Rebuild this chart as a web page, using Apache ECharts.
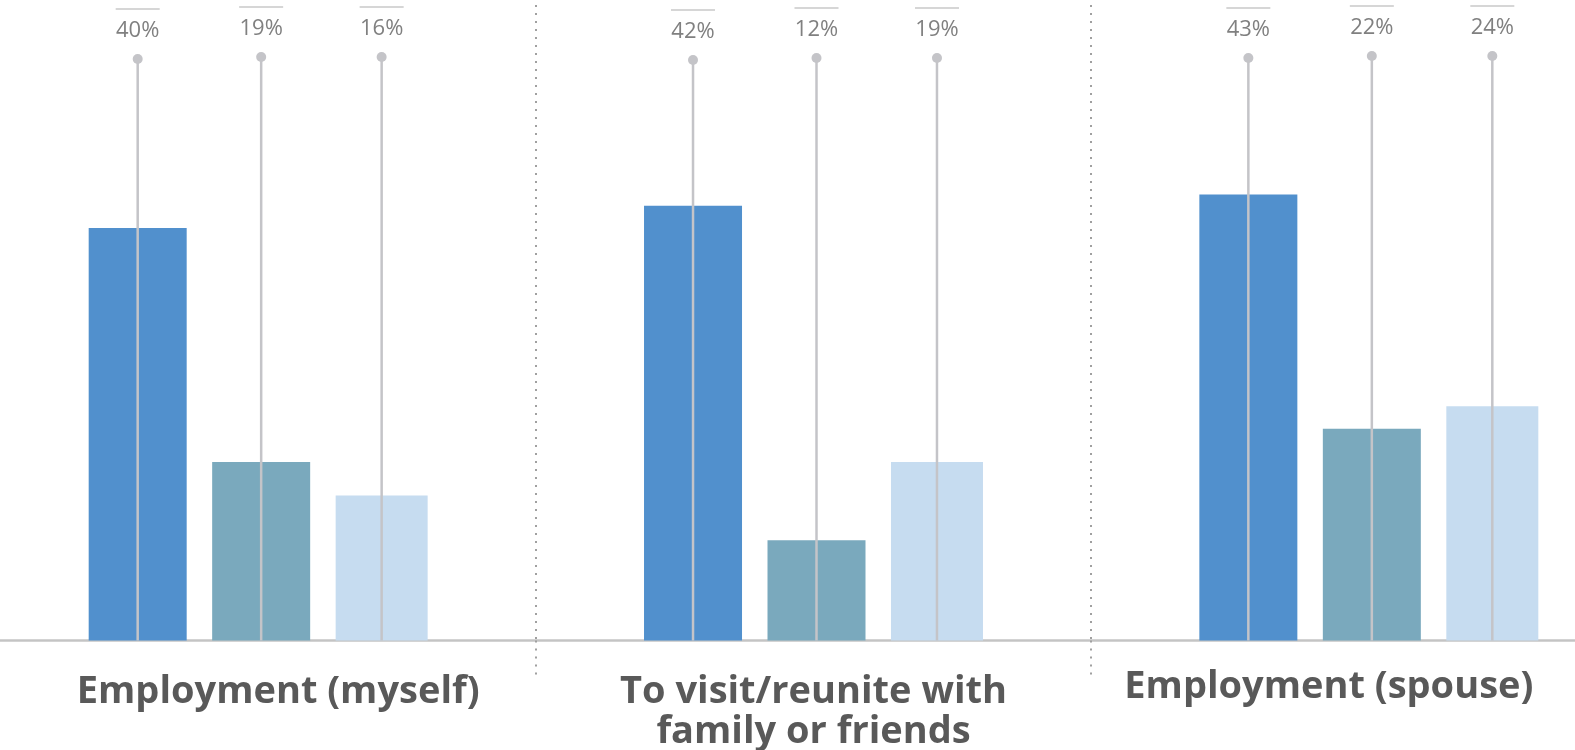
<!DOCTYPE html>
<html>
<head>
<meta charset="utf-8">
<script src="https://cdn.jsdelivr.net/npm/echarts@6/dist/echarts.min.js"></script>
<style>
  html, body { margin: 0; padding: 0; background: #fff; }
  #main { width: 1575px; height: 750px; }
</style>
</head>
<body>
<div id="main"></div>
<script>
// categories on the x axis
var categories = ['Employment (myself)', 'To visit/reunite with\nfamily or friends', 'Employment (spouse)'];
// bar values (%), one array per colour
var valuesA = [40, 42, 43];
var valuesB = [19, 12, 22];
var valuesC = [16, 19, 24];
// where each lollipop stem ends (same % scale)
var stemTopA = [55.15, 55.06, 55.24];
var stemTopB = [55.33, 55.24, 55.42];
var stemTopC = [55.33, 55.24, 55.42];

var colors = ['#5190cd', '#7aa9bd', '#c6dcf0'];
var barWidths = [98, 98, 92];
var barGap = 0.26;

// same centering echarts uses for side by side bars
function barOffsets() {
  var total = 0;
  barWidths.forEach(function (w) { total += w * (1 + barGap); });
  total -= barWidths[barWidths.length - 1] * barGap;
  var off = -total / 2, res = [];
  barWidths.forEach(function (w) {
    res.push(off + w / 2);
    off += w * (1 + barGap);
  });
  return res;
}
var offsets = barOffsets();

var stemData = [];
[[valuesA, stemTopA], [valuesB, stemTopB], [valuesC, stemTopC]].forEach(function (pair, s) {
  for (var g = 0; g < categories.length; g++) {
    stemData.push([g, s, pair[1][g], pair[0][g]]);
  }
});

// label tweaks: first label sits a bit right, last one a bit left and higher
var labelStyles = [
  { padding: [0, 0, 0, 40] },
  {},
  { padding: [0, 80, 0, 0], lineHeight: 30 }
];

var chart = echarts.init(document.getElementById('main'));
var option = {
  animation: false,
  grid: { left: -19.5, width: 1666, top: 5, bottom: 109.5, outerBoundsMode: 'none', containLabel: false },
  xAxis: {
    type: 'category',
    data: categories.map(function (c, i) {
      return { value: c, textStyle: labelStyles[i] };
    }),
    axisLine: { lineStyle: { color: '#c4c4c4', width: 2.5 } },
    axisTick: { show: true, length: 36, lineStyle: { color: '#a0a0a0', width: 2, type: [2, 6] } },
    splitLine: { show: true, lineStyle: { color: '#a0a0a0', width: 2, type: [2, 6] } },
    axisLabel: {
      interval: 0,
      margin: 32,
      color: '#595959',
      fontFamily: 'Open Sans',
      fontWeight: 'bold',
      fontSize: 38,
      lineHeight: 40
    }
  },
  yAxis: {
    type: 'value',
    min: 3,
    max: 60,
    show: false,
    splitLine: { show: false }
  },
  series: [
    { type: 'bar', data: valuesA, barWidth: barWidths[0], barGap: barGap * 100 + '%', itemStyle: { color: colors[0] } },
    { type: 'bar', data: valuesB, barWidth: barWidths[1], barGap: barGap * 100 + '%', itemStyle: { color: colors[1] } },
    { type: 'bar', data: valuesC, barWidth: barWidths[2], barGap: barGap * 100 + '%', itemStyle: { color: colors[2] } },
    {
      type: 'custom',
      data: stemData,
      z: 5,
      renderItem: function (params, api) {
        var g = api.value(0), s = api.value(1);
        var base = api.coord([g, 3]);
        var top = api.coord([g, api.value(2)]);
        var x = base[0] + offsets[s];
        var y = top[1];
        return {
          type: 'group',
          children: [
            { type: 'line', shape: { x1: x, y1: base[1], x2: x, y2: y }, style: { stroke: '#c4c4c8', lineWidth: 2.5 } },
            { type: 'circle', shape: { cx: x, cy: y, r: 5 }, style: { fill: '#c4c4c8' } },
            { type: 'text', style: { text: api.value(3) + '%', x: x, y: y - 28, align: 'center', verticalAlign: 'middle',
                fill: '#808080', fontFamily: 'Open Sans', fontSize: 22 } },
            { type: 'line', shape: { x1: x - 22, y1: y - 50, x2: x + 22, y2: y - 50 }, style: { stroke: '#c8c8c8', lineWidth: 1.5 } }
          ]
        };
      }
    }
  ]
};
chart.setOption(option);
</script>
</body>
</html>
